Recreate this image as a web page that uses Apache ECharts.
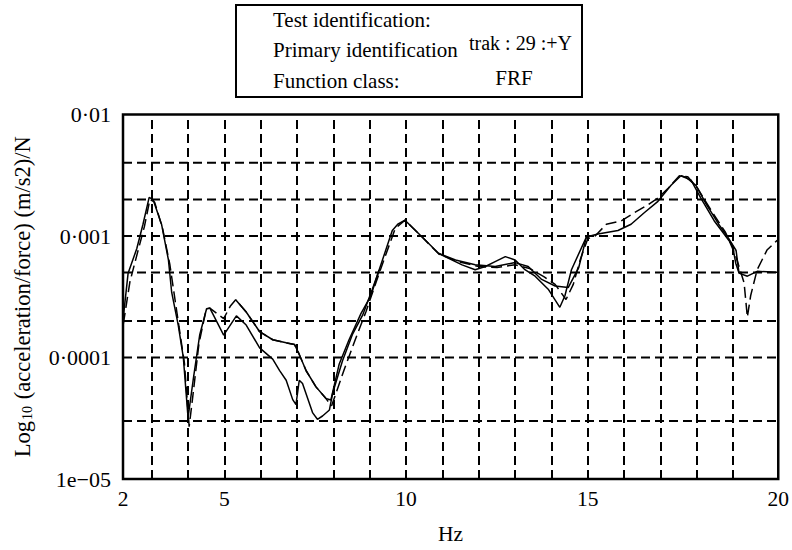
<!DOCTYPE html>
<html>
<head>
<meta charset="utf-8">
<script src="https://cdn.jsdelivr.net/npm/echarts@6/dist/echarts.min.js"></script>
<style>
  html, body { margin: 0; padding: 0; background: #fff; }
  #chart { width: 792px; height: 550px; }
</style>
</head>
<body>
<div id="chart"></div>
<script>
// Frequency span of the plot frame (Hz); the frame edges carry the labels 2 and 20
const X_START = 2.21;
const X_END = 20.24;
const xLabelValues = [X_START, 5, 10, 15, X_END];

// Decade labels of the log axis
const yDecadeLabels = { '-2': '0·01', '-3': '0·001', '-4': '0·0001', '-5': '1e−05' };

// Dashed reference grid
const gridHz = [3, 4, 5, 6, 7, 8, 9, 10, 11, 12, 13, 14, 15, 16, 17, 18, 19];
const gridLevels = [0.004, 0.002, 0.001, 0.0005, 0.0002, 0.0001, 0.00003];

// Measured FRF, first run (solid)
const solidFreq = [2.21, 2.35, 2.59, 2.76, 2.93, 3.04, 3.27, 3.46, 3.55, 3.73, 3.87, 4.0, 4.14, 4.32, 4.51,
  4.6, 4.98, 5.33, 5.6, 5.97, 6.33, 6.52, 6.7, 6.88, 6.97, 7.06, 7.15, 7.43, 7.56, 7.7, 7.89, 7.98, 8.25,
  8.52, 8.8, 9.07, 9.26, 9.62, 9.77, 9.97, 10.44, 10.9, 11.36, 11.9, 12.45, 13.0, 13.36, 13.73, 14.1, 14.46,
  14.75, 14.96, 15.28, 15.83, 16.19, 16.56, 16.93, 17.29, 17.56, 17.84, 18.11, 18.48, 18.75, 18.98, 19.07,
  19.16, 19.39, 19.66, 20.21];
const solidAmp = [2.03e-4, 4.93e-4, 7.89e-4, 1.25e-3, 2.08e-3, 1.99e-3, 1.25e-3, 6.36e-4, 3.43e-4, 1.85e-4,
  1.0e-4, 3.2e-5, 6.5e-5, 1.53e-4, 2.52e-4, 2.55e-4, 1.53e-4, 2.2e-4, 1.85e-4, 1.2e-4, 9.7e-5, 7.8e-5,
  6.5e-5, 4.5e-5, 4.1e-5, 6.5e-5, 6.1e-5, 3.5e-5, 3.1e-5, 3.3e-5, 3.7e-5, 5.1e-5, 9.4e-5, 1.54e-4, 2.22e-4,
  3.65e-4, 5.28e-4, 1.11e-3, 1.25e-3, 1.35e-3, 9.8e-4, 7.18e-4, 6.35e-4, 5.79e-4, 5.61e-4, 6.04e-4, 5.61e-4,
  4.39e-4, 3.88e-4, 3.76e-4, 5.5e-4, 9.8e-4, 1.04e-3, 1.11e-3, 1.25e-3, 1.56e-3, 1.93e-3, 2.62e-3, 3.13e-3,
  2.88e-3, 2.05e-3, 1.33e-3, 1.04e-3, 8.4e-4, 5.97e-4, 4.95e-4, 4.67e-4, 5.12e-4, 5.02e-4];

// Measured FRF, second run (solid; null separates the stretches where it leaves the first run)
const secondFreq = [5.31, 5.6, 5.97, 6.33, 6.7, 6.93, 7.06, 7.25, 7.52, 7.79, 7.93, 8.16, 8.43, 8.76, 9.03, 9.26,
  null,
  10.9, 11.54, 11.9, 12.18, 12.45, 12.73, 13.0, 13.27, 13.55, 13.91, 14.23, 14.37, 14.55, 14.96,
  null,
  17.56, 17.7, 17.98, 18.25, 18.6, 18.87, 19.08, 19.16];
const secondAmp = [2.99e-4, 2.37e-4, 1.63e-4, 1.40e-4, 1.32e-4, 1.28e-4, 1.06e-4, 7.78e-5, 5.73e-5, 4.61e-5,
  4.47e-5, 8.85e-5, 1.40e-4, 2.31e-4, 3.22e-4, 5.28e-4,
  null,
  7.18e-4, 5.79e-4, 5.28e-4, 5.61e-4, 6.15e-4, 6.76e-4, 6.35e-4, 5.28e-4, 4.67e-4, 3.65e-4, 2.59e-4, 3.22e-4,
  5.28e-4, 9.8e-4,
  null,
  3.13e-3, 3.05e-3, 2.6e-3, 1.85e-3, 1.25e-3, 9.6e-4, 7.6e-4, 4.95e-4];

// Regenerated FRF (dashed)
const dashFreq = [2.22, 2.4, 2.62, 2.8, 2.95, 3.08, 3.3, 3.5, 3.75, 3.9, 4.03, 4.12, 4.3, 4.5, 4.6, 4.98, 5.16,
  5.31, 5.6, 5.97, 6.33, 6.7, 6.93, 7.06, 7.25, 7.52, 7.79, 7.95, 8.3, 8.6, 8.9, 9.1, 9.4, 9.7, 9.97, 10.44,
  10.9, 11.4, 12.0, 12.5, 13.0, 13.4, 13.8, 14.1, 14.4, 14.6, 14.8, 15.0, 15.2, 15.51, 15.92, 16.29, 16.66,
  16.93, 17.21, 17.52, 17.75, 18.02, 18.43, 18.79, 19.06, 19.3, 19.39, 19.48, 19.66, 19.93, 20.21];
const dashAmp = [1.9e-4, 4.2e-4, 7.5e-4, 1.2e-3, 2.0e-3, 1.9e-3, 1.15e-3, 5.8e-4, 1.8e-4, 9e-5, 2.7e-5, 4.5e-5,
  1.3e-4, 2.5e-4, 2.55e-4, 2.09e-4, 2.64e-4, 2.99e-4, 2.37e-4, 1.63e-4, 1.40e-4, 1.32e-4, 1.28e-4, 1.06e-4,
  7.78e-5, 5.73e-5, 4.61e-5, 4.0e-5, 8.0e-5, 1.4e-4, 2.4e-4, 3.6e-4, 6.5e-4, 1.15e-3, 1.35e-3, 9.8e-4, 7.1e-4,
  6.2e-4, 5.6e-4, 5.5e-4, 5.8e-4, 5.4e-4, 4.6e-4, 4.0e-4, 3.0e-4, 4.0e-4, 6.5e-4, 9.5e-4, 1.0e-3, 1.25e-3,
  1.33e-3, 1.56e-3, 1.81e-3, 2.05e-3, 2.47e-3, 3.13e-3, 3.08e-3, 2.47e-3, 1.56e-3, 1.07e-3, 7.0e-4, 4.12e-4,
  2.15e-4, 3.22e-4, 5.28e-4, 7.66e-4, 9.2e-4];

const FONT = 'Liberation Serif';

function pairs(xs, ys) {
  return xs.map((x, i) => (x === null || ys[i] === null) ? [null, null] : [x, ys[i]]);
}

const chart = echarts.init(document.getElementById('chart'), null, { renderer: 'svg' });

const gridLineStyle = { color: '#000', width: 2, type: [9, 5] };

// horizontal dashed levels, one short line series per level spanning the frame
const levelSeries = gridLevels.map(v => ({
  name: 'level ' + v, type: 'line', z: 1, silent: true, showSymbol: false,
  data: [[X_START, v], [X_END, v]],
  lineStyle: gridLineStyle
}));

function boxText(text, x, y, size, align) {
  return {
    type: 'text', z: 11,
    style: {
      text: text, x: x, y: y, font: size + 'px ' + FONT, fill: '#000',
      textAlign: align || 'left', align: align || 'left',
      textVerticalAlign: 'middle', verticalAlign: 'middle'
    }
  };
}

chart.setOption({
  animation: false,
  backgroundColor: '#fff',
  grid: {
    left: 123, top: 114.5, width: 658, height: 373,
    show: true, borderColor: '#000', borderWidth: 2.5, backgroundColor: 'transparent'
  },
  xAxis: {
    type: 'value', min: X_START, max: X_END,
    name: 'Hz', nameLocation: 'middle', nameGap: 44,
    nameTextStyle: { fontFamily: FONT, fontSize: 21.5, color: '#000' },
    axisLine: { show: false }, axisTick: { show: false }, splitLine: { show: false },
    axisLabel: {
      customValues: xLabelValues,
      formatter: v => String(Math.round(v)),
      fontFamily: FONT, fontSize: 21.5, color: '#000', margin: 9
    }
  },
  yAxis: {
    type: 'log', logBase: 10, min: 1e-5, max: 0.01,
    name: '{t|Log}{s|10}{t| (acceleration/force) (m/s2)/N}',
    nameLocation: 'middle', nameRotate: 90, nameGap: 89,
    nameTextStyle: {
      color: '#000',
      rich: {
        t: { fontFamily: FONT, fontSize: 22.5, color: '#000' },
        s: { fontFamily: FONT, fontSize: 14, color: '#000', verticalAlign: 'bottom', padding: [0, 1, 0, 1] }
      }
    },
    axisLine: { show: false }, axisTick: { show: false }, splitLine: { show: false },
    axisLabel: {
      formatter: v => yDecadeLabels[String(Math.round(Math.log10(v)))] || '',
      fontFamily: FONT, fontSize: 22, color: '#000', margin: 12
    }
  },
  graphic: [
    {
      type: 'rect', z: 10,
      shape: { x: 236, y: 5, width: 346, height: 92 },
      style: { fill: '#fff', stroke: '#000', lineWidth: 2 }
    },
    boxText('Test identification:', 273, 20, 21),
    boxText('Primary identification', 273, 50, 21),
    boxText('Function class:', 273, 81, 21),
    boxText('trak : 29 :+Y', 469, 43, 20),
    boxText('FRF', 514, 78, 21, 'center')
  ],
  series: [
    {
      name: 'grid', type: 'line', data: [], z: 1, silent: true,
      markLine: {
        silent: true, symbol: 'none', label: { show: false }, animation: false,
        lineStyle: gridLineStyle,
        data: gridHz.map(h => ({ xAxis: h }))
      }
    }
  ].concat(levelSeries).concat([
    {
      name: 'run 1', type: 'line', data: pairs(solidFreq, solidAmp), z: 3,
      showSymbol: false, smooth: false, connectNulls: false,
      lineStyle: { color: '#000', width: 1.5 }
    },
    {
      name: 'run 2', type: 'line', data: pairs(secondFreq, secondAmp), z: 3,
      showSymbol: false, smooth: false, connectNulls: false,
      lineStyle: { color: '#000', width: 1.5 }
    },
    {
      name: 'regenerated', type: 'line', data: pairs(dashFreq, dashAmp), z: 4,
      showSymbol: false, smooth: false,
      lineStyle: { color: '#000', width: 1.5, type: [11, 5] }
    }
  ])
});
</script>
</body>
</html>
